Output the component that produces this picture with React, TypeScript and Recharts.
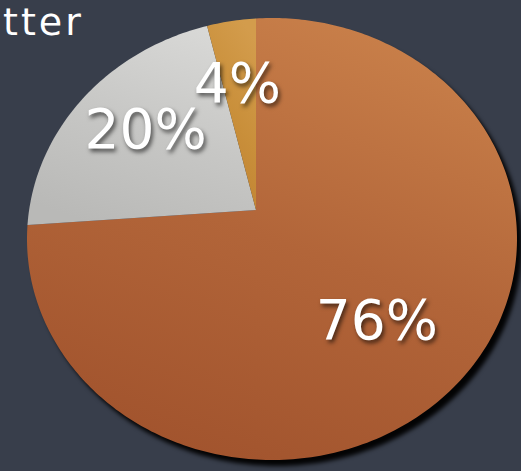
import { PieChart, Pie, Cell } from 'recharts';

// 슬라이스 데이터
const sliceNames = ['Copper', 'Silver', 'Gold'];
const sliceValues = [76, 20, 4];
const sliceLabels = ['76%', '20%', '4%'];
const sliceGradients = [
  ['#c9804a', '#b26539', '#a1532d'],
  ['#d8d8d6', '#c7c7c5', '#b9b9b7'],
  ['#d39c4c', '#c98f3a', '#bd7f30'],
];

const data = sliceNames.map((name, i) => ({ name, value: sliceValues[i], label: sliceLabels[i] }));

// 기울어진 원판(타원) 모양
const DISC = { cx: 272, cy: 239, rx: 245, ry: 221 };
const TILT = 0.129;

// 각도 방향의 광선이 타원 가장자리와 만나는 점
function project(cx: number, cy: number, angleDeg: number, frac = 1): [number, number] {
  const r = (angleDeg * Math.PI) / 180;
  const sx = Math.cos(r);
  const sy = -(Math.sin(r) + TILT * Math.cos(r));
  const ox = (cx - DISC.cx) / DISC.rx;
  const oy = (cy - DISC.cy) / DISC.ry;
  const ux = sx / DISC.rx;
  const uy = sy / DISC.ry;
  const A = ux * ux + uy * uy;
  const B = 2 * (ox * ux + oy * uy);
  const C = ox * ox + oy * oy - 1;
  const t = (-B + Math.sqrt(B * B - 4 * A * C)) / (2 * A);
  return [cx + sx * t * frac, cy + sy * t * frac];
}

const renderSlice = (props: any) => {
  const { cx, cy, startAngle, endAngle, fill, index } = props;
  const steps = Math.max(2, Math.ceil(Math.abs(endAngle - startAngle)));
  let d = `M${cx},${cy}`;
  for (let i = 0; i <= steps; i++) {
    const a = startAngle + ((endAngle - startAngle) * i) / steps;
    const [x, y] = project(cx, cy, a);
    d += `L${x.toFixed(2)},${y.toFixed(2)}`;
  }
  d += 'Z';
  return (
    <path
      d={d}
      fill={fill}
      style={index === 0 ? { filter: 'drop-shadow(5px 6px 2px rgba(0,0,0,0.95))' } : undefined}
    />
  );
};

const renderLabel = (props: any) => {
  const { cx, cy, midAngle, index } = props;
  const [x, y] = project(cx, cy, midAngle, 0.64);
  return (
    <text
      x={x - 3}
      y={y - 6}
      fill="#ffffff"
      textAnchor="middle"
      dominantBaseline="central"
      fontSize={55}
      fontFamily="'DejaVu Sans', sans-serif"
      style={{ filter: 'drop-shadow(2px 3px 2px rgba(0,0,0,0.6))' }}
    >
      {data[index].label}
    </text>
  );
};

export default function App() {
  return (
    <div
      style={{
        position: 'fixed',
        left: 0,
        top: 0,
        width: 521,
        height: 471,
        background: '#383e4b',
        overflow: 'hidden',
      }}
    >
      <div
        style={{
          position: 'absolute',
          left: 3,
          top: 0,
          lineHeight: 'normal',
          color: '#ffffff',
          fontFamily: "'DejaVu Sans', sans-serif",
          fontSize: 38,
          letterSpacing: 3,
        }}
      >
        tter
      </div>
      <PieChart width={521} height={471} margin={{ top: 0, right: 0, bottom: 0, left: 0 }}>
        <defs>
          {sliceGradients.map((g, i) => (
            <linearGradient key={i} id={`slice-${i}`} x1="0.7" y1="0" x2="0.3" y2="1">
              <stop offset="0%" stopColor={g[0]} />
              <stop offset="50%" stopColor={g[1]} />
              <stop offset="100%" stopColor={g[2]} />
            </linearGradient>
          ))}
        </defs>
        <Pie
          data={data}
          dataKey="value"
          nameKey="name"
          cx={256}
          cy={210}
          outerRadius={230}
          startAngle={90}
          endAngle={-270}
          stroke="none"
          shape={renderSlice}
          label={renderLabel}
          labelLine={false}
          isAnimationActive={false}
        >
          {data.map((entry, i) => (
            <Cell key={entry.name} fill={`url(#slice-${i})`} />
          ))}
        </Pie>
      </PieChart>
    </div>
  );
}
